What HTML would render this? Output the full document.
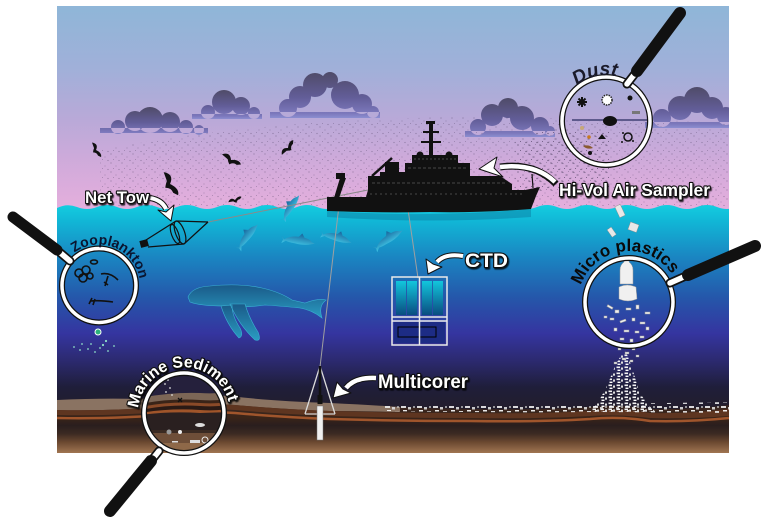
<!DOCTYPE html>
<html><head><meta charset="utf-8">
<style>
html,body{margin:0;padding:0;background:#fff;width:765px;height:520px;overflow:hidden}
svg{display:block}
.lbl{font-family:"Liberation Sans",Arial,sans-serif;font-weight:bold;fill:#fff;stroke:#111;stroke-width:2.2;paint-order:stroke;stroke-linejoin:round}
.arc{font-family:"Liberation Sans",Arial,sans-serif;font-weight:bold}
</style></head><body>
<svg width="765" height="520" viewBox="0 0 765 520" xmlns="http://www.w3.org/2000/svg" xmlns:xlink="http://www.w3.org/1999/xlink">
<defs>
 <clipPath id="pc"><rect x="57" y="6" width="672" height="447"/></clipPath>
 <clipPath id="sedc"><circle cx="184" cy="413" r="40"/></clipPath>
 <linearGradient id="sky" x1="0" y1="6" x2="0" y2="212" gradientUnits="userSpaceOnUse">
  <stop offset="0" stop-color="#8fb6d8"/>
  <stop offset="0.3" stop-color="#a0b0d9"/>
  <stop offset="0.55" stop-color="#b9a9d8"/>
  <stop offset="0.8" stop-color="#d4abdb"/>
  <stop offset="1" stop-color="#e6afdd"/>
 </linearGradient>
 <linearGradient id="sea" x1="0" y1="205" x2="0" y2="412" gradientUnits="userSpaceOnUse">
  <stop offset="0" stop-color="#14cde0"/>
  <stop offset="0.08" stop-color="#11b6d6"/>
  <stop offset="0.25" stop-color="#1a86c2"/>
  <stop offset="0.45" stop-color="#2556aa"/>
  <stop offset="0.62" stop-color="#3535a0"/>
  <stop offset="0.75" stop-color="#2c2a70"/>
  <stop offset="0.88" stop-color="#1f1e3a"/>
  <stop offset="1" stop-color="#231d2a"/>
 </linearGradient>
 <linearGradient id="mud" x1="0" y1="398" x2="0" y2="453" gradientUnits="userSpaceOnUse">
  <stop offset="0" stop-color="#3a2a2a"/>
  <stop offset="0.35" stop-color="#3a2418"/>
  <stop offset="0.5" stop-color="#2a1e1e"/>
  <stop offset="0.65" stop-color="#3c2a22"/>
  <stop offset="0.8" stop-color="#6a4830"/>
  <stop offset="1" stop-color="#a07552"/>
 </linearGradient>
 <linearGradient id="cloud" x1="0" y1="0" x2="0" y2="1">
  <stop offset="0" stop-color="#4f4b68"/>
  <stop offset="0.55" stop-color="#625d98"/>
  <stop offset="0.9" stop-color="#7c78bc"/>
  <stop offset="1" stop-color="#8c8ed0"/>
 </linearGradient>
 <linearGradient id="dolg" x1="0" y1="0" x2="0" y2="1">
  <stop offset="0" stop-color="#17639a"/>
  <stop offset="1" stop-color="#40c6e6"/>
 </linearGradient>
 <linearGradient id="whg" x1="0" y1="0" x2="0" y2="1">
  <stop offset="0" stop-color="#1a5a88"/>
  <stop offset="1" stop-color="#2a9cc2"/>
 </linearGradient>
 <linearGradient id="btl" x1="0" y1="0" x2="0" y2="1">
  <stop offset="0" stop-color="#12c6dc"/>
  <stop offset="1" stop-color="#0a4c80"/>
 </linearGradient>
 <pattern id="dots" width="11" height="9" patternUnits="userSpaceOnUse">
  <circle cx="1" cy="1" r=".6" fill="#4a3d5e"/>
  <circle cx="6" cy="4" r=".5" fill="#4a3d5e"/>
  <circle cx="9" cy="7.5" r=".6" fill="#4a3d5e"/>
  <circle cx="3.5" cy="6.5" r=".45" fill="#4a3d5e"/>
 </pattern>
 <pattern id="deb" width="16" height="9" patternUnits="userSpaceOnUse">
  <rect x="1" y="1" width="5" height="2" fill="#eee"/>
  <rect x="8" y="2" width="3" height="2.5" fill="#ddd"/>
  <rect x="3" y="5" width="4" height="1.5" fill="#fff"/>
  <rect x="11" y="6" width="4" height="2" fill="#e8e8e8"/>
  <circle cx="14" cy="2" r="1" fill="#ccc"/>
 </pattern>
 <pattern id="deb2" width="8" height="6" patternUnits="userSpaceOnUse">
  <rect x="0.5" y="0.5" width="3.5" height="1.6" fill="#f2f2f2"/>
  <rect x="5" y="1.5" width="2" height="2.2" fill="#ddd"/>
  <rect x="1.5" y="3.6" width="3" height="1.4" fill="#fff"/>
 </pattern>
 <filter id="sh" x="-10%" y="-20%" width="130%" height="160%">
  <feDropShadow dx="1" dy="1.5" stdDeviation="0.6" flood-color="#000" flood-opacity=".8"/>
 </filter>
 <g id="dol">
  <path fill="url(#dolg)" d="M-15,1 Q-8,-5 4,-4 Q10,-4 13,-1 L16,0 L13,1 Q6,4 -4,3 Q-10,3 -13,2 L-17,5 L-16,1 L-18,-2 Z M-1,-4 L2,-8 L5,-4 Z"/>
 </g>
 <g id="bird">
  <path fill="#111" d="M-7,1 Q-4,-4 0,0 Q4,-4 7,-2 L5,0 Q2,0 1,3 Q-1,2 -2,1 Q-4,1 -7,1 Z"/>
 </g>
 <path id="pz" d="M64.2,263.8 A41,41 0 0 1 139.1,294.0"/>
 <path id="pm" d="M578.1,299.3 A51,51 0 0 1 677.8,287.1"/>
 <path id="pd" d="M560.1,123.4 A46,46 0 0 1 648.3,103.0"/>
 <path id="ps" d="M138.3,408.2 A46,46 0 0 1 228.6,401.9"/>
</defs>

<g clip-path="url(#pc)">
 <rect x="57" y="6" width="672" height="447" fill="url(#sky)"/>
 <path d="M100,150 Q300,112 550,118 L729,122 L729,206 L100,206 Z" fill="url(#dots)" opacity=".45"/>
 <rect x="515" y="128" width="95" height="62" fill="url(#dots)" opacity=".7"/>
 <rect x="520" y="133" width="85" height="55" fill="url(#dots)" opacity=".5" transform="translate(4,3)"/>
 <!-- clouds -->
 <path fill="url(#cloud)" d="M100,128h108v5h-108z M111,127a7,7 0 1,0 14,0a7,7 0 1,0 -14,0 M125,121a10,10 0 1,0 20,0a10,10 0 1,0 -20,0 M137,120a13,13 0 1,0 26,0a13,13 0 1,0 -26,0 M160,122a10,10 0 1,0 20,0a10,10 0 1,0 -20,0 M179,127a7,7 0 1,0 14,0a7,7 0 1,0 -14,0 M194,130a5,5 0 1,0 10,0a5,5 0 1,0 -10,0"/>
 <path fill="url(#cloud)" d="M192,114h70v5h-70z M201,112a7,7 0 1,0 14,0a7,7 0 1,0 -14,0 M212,102a12,12 0 1,0 24,0a12,12 0 1,0 -24,0 M232,106a9,9 0 1,0 18,0a9,9 0 1,0 -18,0 M248,113a6,6 0 1,0 12,0a6,6 0 1,0 -12,0"/>
 <path fill="url(#cloud)" d="M270,112h110v6h-110z M279,108a9,9 0 1,0 18,0a9,9 0 1,0 -18,0 M289,97a11,11 0 1,0 22,0a11,11 0 1,0 -22,0 M303,85a12,12 0 1,0 24,0a12,12 0 1,0 -24,0 M322,80a8,8 0 1,0 16,0a8,8 0 1,0 -16,0 M331,95a14,14 0 1,0 28,0a14,14 0 1,0 -28,0 M352,104a10,10 0 1,0 20,0a10,10 0 1,0 -20,0 M367,112a6,6 0 1,0 12,0a6,6 0 1,0 -12,0"/>
 <path fill="url(#cloud)" d="M465,131h90v6h-90z M470,127a8,8 0 1,0 16,0a8,8 0 1,0 -16,0 M481,115a11,11 0 1,0 22,0a11,11 0 1,0 -22,0 M498,108a10,10 0 1,0 20,0a10,10 0 1,0 -20,0 M510,118a12,12 0 1,0 24,0a12,12 0 1,0 -24,0 M531,126a9,9 0 1,0 18,0a9,9 0 1,0 -18,0 M545,131a5,5 0 1,0 10,0a5,5 0 1,0 -10,0"/>
 <path fill="url(#cloud)" d="M645,122h84v6h-84z M653,118a9,9 0 1,0 18,0a9,9 0 1,0 -18,0 M668,108a12,12 0 1,0 24,0a12,12 0 1,0 -24,0 M684,100a13,13 0 1,0 26,0a13,13 0 1,0 -26,0 M701,108a11,11 0 1,0 22,0a11,11 0 1,0 -22,0 M717,116a9,9 0 1,0 18,0a9,9 0 1,0 -18,0"/>
 <rect x="572" y="119" width="80" height="2" fill="#5e5a8c"/>
 <!-- birds -->
 <use xlink:href="#bird" transform="translate(96,150) rotate(70) scale(1.2)"/>
 <use xlink:href="#bird" transform="translate(170,184) rotate(70) scale(1.9)"/>
 <use xlink:href="#bird" transform="translate(231,160) rotate(40) scale(1.5)"/>
 <use xlink:href="#bird" transform="translate(288,148) rotate(-40) scale(1.3)"/>
 <use xlink:href="#bird" transform="translate(235,200) rotate(-10) scale(1)"/>

 <!-- sea -->
 <path fill="url(#sea)" d="M57,208 Q67,203 77,207 T97,207 T117,207 T137,207 T157,207 T177,207 T197,207 T217,207 T237,207 T257,207 T277,207 T297,207 T317,207 T337,207 T357,207 T377,207 T397,207 T417,207 T437,207 T457,207 T477,207 T497,207 T517,207 T537,207 T557,207 T577,207 T597,207 T617,207 T637,207 T657,207 T677,207 T697,207 T717,207 T737,207 L737,453 L57,453 Z"/>
 <path d="M327,211 Q430,218 531,209 L531,217 Q430,224 327,217 Z" fill="#0b7ea3" opacity=".5"/>

 <!-- seabed -->
 <path fill="url(#mud)" d="M57,401 Q100,399 140,400 Q180,394 230,397 Q270,402 330,404 Q400,408 470,409 Q540,410 590,407 Q620,404 650,409 Q690,410 729,405 L729,453 L57,453 Z"/>
 <path fill="#8a7362" d="M57,400 Q100,398 140,399 Q180,393 230,396 Q270,401 330,403 Q370,405 400,407 L400,412 Q360,411 330,411 Q280,409 235,405 Q190,402 150,408 Q100,411 57,410 Z"/>
 <path fill="#5e3520" d="M57,410 Q100,411 150,408 Q190,402 235,405 Q280,409 330,411 Q400,413 470,413 Q540,414 590,411 Q620,408 650,413 Q690,414 729,409 L729,416 Q690,419 650,418 Q620,414 590,416 Q540,419 470,418 Q400,418 330,416 Q280,414 235,410 Q190,407 150,413 Q100,416 57,415 Z"/>
 <path fill="none" stroke="#a0552c" stroke-width="2.5" d="M57,418 Q100,419 150,416 Q190,410 235,413 Q280,417 330,419 Q400,421 470,421 Q540,422 590,419 Q620,416 650,421 Q690,422 729,418"/>
 <path d="M385,404 Q450,405 560,406 L600,404 L729,402 L729,413 L600,412 Q500,413 385,411 Z" fill="url(#deb)" opacity=".9"/>
 <path d="M590,412 Q604,396 611,376 Q617,360 625,350 Q632,365 637,385 Q643,402 656,412 Z" fill="url(#deb2)"/>

 <!-- whale -->
 <path fill="url(#whg)" stroke="#3ab0d4" stroke-width=".6" d="M188,297 Q192,287 210,286 Q240,283 262,288 Q280,292 292,300 L305,303 Q318,298 326,300 Q318,306 322,318 Q312,310 300,308 Q280,306 265,305 Q245,308 225,306 Q200,306 190,302 Z"/>
 <path fill="url(#whg)" stroke="#3ab0d4" stroke-width=".6" d="M230,304 Q239,325 255,340 Q262,342 258,332 Q249,318 245,304 Z M221,306 Q227,325 239,338 Q244,336 240,328 Q232,316 232,305 Z"/>
 <!-- dolphins -->
 <use xlink:href="#dol" transform="translate(291,207) rotate(-55) scale(.9)"/>
 <use xlink:href="#dol" transform="translate(248,236) rotate(-50) scale(.95)"/>
 <use xlink:href="#dol" transform="translate(299,241) rotate(10) scale(1)"/>
 <use xlink:href="#dol" transform="translate(337,238) rotate(18) scale(.95)"/>
 <use xlink:href="#dol" transform="translate(389,239) rotate(-32) scale(1)"/>

 <!-- lines -->
 <line x1="208" y1="222" x2="368" y2="190" stroke="#8a8a8a" stroke-width="1"/>
 <line x1="342" y1="180" x2="320" y2="367" stroke="#a0a0a0" stroke-width="1"/>
 <line x1="404" y1="182" x2="418" y2="278" stroke="#a0a0a0" stroke-width="1"/>

 <!-- net -->
 <g stroke="#111" stroke-width="1.2" fill="none">
  <line x1="176" y1="221" x2="146" y2="240"/>
  <line x1="184" y1="244" x2="148" y2="247"/>
  <line x1="176" y1="221" x2="208" y2="222"/>
  <line x1="184" y1="244" x2="208" y2="222"/>
  <ellipse cx="180" cy="232.5" rx="4.5" ry="12" transform="rotate(-20 180 232.5)"/>
  <ellipse cx="175" cy="234" rx="3.5" ry="10" transform="rotate(-20 175 234)"/>
 </g>
 <rect x="140" y="240" width="8" height="7" fill="#111" transform="rotate(-15 144 243)"/>

 <!-- ship -->
 <g fill="#111">
  <path d="M327,211 L327,197 L366,197 L368,190 L525,190 L540,187 L536,196 L531,209 Q480,213 430,212 Q380,213 327,211 Z"/>
  <path d="M368,190 L368,176 L380,176 L380,172 L405,172 L405,163 L412,163 L412,155 L458,155 L458,163 L470,163 L470,176 L500,176 L512,184 L512,190 Z"/>
  <rect x="429" y="122" width="4" height="34"/>
  <rect x="423" y="131" width="16" height="2"/>
  <rect x="421" y="141" width="20" height="2"/>
  <rect x="426" y="121" width="9" height="3"/>
  <circle cx="420" cy="155" r="3.5"/>
  <circle cx="449" cy="155" r="3.5"/>
  <path d="M334,198 L340,178 L346,178 L339,198 Z"/>
  <rect x="336" y="173" width="9" height="6"/>
  <rect x="385" y="162" width="14" height="11"/>
 </g>
 <g stroke="#111" fill="none">
  <line x1="372" y1="176" x2="392" y2="158" stroke-width="2.5"/>
  <line x1="533" y1="188" x2="532" y2="174" stroke-width="1.2"/>
  <line x1="458" y1="163" x2="470" y2="170" stroke-width="1"/>
 </g>
 <g stroke="#5a5a5a" stroke-width=".8" fill="none">
  <line x1="372" y1="183" x2="505" y2="183" stroke-dasharray="3 2"/>
  <line x1="370" y1="194" x2="522" y2="194" stroke-dasharray="2 3"/>
  <line x1="408" y1="168" x2="466" y2="168" stroke-dasharray="3 2"/>
  <line x1="414" y1="159" x2="456" y2="159" stroke-dasharray="2 2"/>
 </g>

 <!-- CTD -->
 <g>
  <rect x="396" y="281" width="10" height="34" fill="url(#btl)"/>
  <rect x="407" y="281" width="10" height="34" fill="url(#btl)"/>
  <rect x="422" y="281" width="10" height="34" fill="url(#btl)"/>
  <rect x="433" y="281" width="10" height="34" fill="url(#btl)"/>
  <rect x="394" y="322" width="51" height="21" fill="#1d2c85"/>
  <rect x="398" y="327" width="38" height="10" fill="none" stroke="#000" stroke-width="1"/>
  <g stroke="#eaeaea" stroke-width="1.5" fill="none">
   <rect x="392" y="277" width="55" height="68"/>
   <line x1="392" y1="317" x2="447" y2="317"/>
   <line x1="392" y1="321" x2="447" y2="321"/>
   <line x1="419.5" y1="277" x2="419.5" y2="345"/>
  </g>
 </g>

 <!-- multicorer -->
 <g>
  <line x1="320" y1="366" x2="305" y2="414" stroke="#dcdcdc" stroke-width="1.3"/>
  <line x1="320" y1="366" x2="335" y2="414" stroke="#dcdcdc" stroke-width="1.3"/>
  <line x1="320" y1="366" x2="320" y2="404" stroke="#111" stroke-width="2.5"/>
  <rect x="317.5" y="395" width="5" height="9" fill="#111"/>
  <line x1="305" y1="414" x2="335" y2="414" stroke="#cfcfcf" stroke-width="1.2"/>
  <rect x="317" y="406" width="6" height="34" fill="#f0f0f0" stroke="#777" stroke-width=".5"/>
 </g>

 <!-- plastics floating & falling -->
 <g fill="#e8e8e8" stroke="#888" stroke-width=".4">
  <rect x="617" y="205" width="6" height="12" transform="rotate(-25 620 211)"/>
  <rect x="609" y="228" width="5" height="9" transform="rotate(-35 611 232)"/>
  <rect x="629" y="223" width="9" height="8" transform="rotate(20 633 227)"/>
  <rect x="618" y="348" width="3" height="2"/><rect x="625" y="352" width="4" height="2"/>
  <rect x="632" y="347" width="3" height="3"/><rect x="622" y="358" width="4" height="2"/>
  <rect x="630" y="360" width="3" height="2"/><rect x="614" y="362" width="3" height="2"/>
  <rect x="636" y="355" width="3" height="2"/>
 </g>

 <!-- bio dots -->
 <circle cx="98" cy="332" r="3" fill="#2ab27a" stroke="#fff" stroke-width="1"/>
 <g fill="#8fe0c8">
  <circle cx="74" cy="347" r=".9"/><circle cx="80" cy="350" r=".9"/><circle cx="88" cy="349" r=".9"/>
  <circle cx="95" cy="352" r=".9"/><circle cx="103" cy="345" r="1.1"/><circle cx="108" cy="351" r=".9"/>
  <circle cx="114" cy="346" r=".9"/><circle cx="91" cy="344" r=".9"/><circle cx="100" cy="348" r=".9"/>
  <circle cx="82" cy="344" r=".9"/><circle cx="106" cy="341" r="1.1"/>
 </g>
</g>

<!-- sediment lens interior -->
<g clip-path="url(#sedc)">
 <rect x="140" y="370" width="90" height="90" fill="#25203c"/>
 <path d="M140,398 Q170,392 200,393 Q215,394 230,392 L230,460 L140,460 Z" fill="#7c6656"/>
 <path d="M140,404 Q170,398 200,400 Q215,401 230,399 L230,460 L140,460 Z" fill="#3a2418"/>
 <path d="M140,407 Q170,401 200,403 Q215,404 230,402 L230,460 L140,460 Z" fill="#8a4a28"/>
 <path d="M140,410 Q170,404 200,406 Q215,407 230,405 L230,460 L140,460 Z" fill="#2a1a15"/>
 <path d="M140,413 Q170,408 200,410 Q215,411 230,409 L230,460 L140,460 Z" fill="#a0552a"/>
 <path d="M140,415 Q170,411 200,413 L230,412 L230,460 L140,460 Z" fill="#2a2020"/>
 <rect x="140" y="430" width="90" height="3" fill="#3a2a22"/>
 <rect x="140" y="433" width="90" height="30" fill="#6e4e38"/>
 <rect x="140" y="443" width="90" height="20" fill="#8e6848"/>
 <g fill="#ddd">
  <circle cx="165" cy="384" r=".9"/><circle cx="170" cy="388" r=".9"/><circle cx="166" cy="392" r=".9"/>
  <circle cx="172" cy="395" r=".9"/><circle cx="168" cy="380" r=".9"/>
  <ellipse cx="200" cy="425" rx="5" ry="2"/><circle cx="169" cy="432" r="2.5" fill="#999"/>
  <circle cx="180" cy="432" r="2" fill="#eee"/><rect x="190" y="440" width="10" height="3"/>
  <rect x="172" y="441" width="6" height="1.5"/><circle cx="205" cy="440" r="3" fill="none" stroke="#eee"/>
 </g>
 <path d="M178,398 l4,4 m0,-4 l-4,4" stroke="#111" stroke-width="1.3"/>
</g>

<!-- dust contents -->
<g fill="#111">
 <path d="M577,102 h10 M582,97 v10 M578.5,98.5 l7,7 M585.5,98.5 l-7,7" stroke="#111" stroke-width="2"/>
 <circle cx="607" cy="100" r="5" fill="#fff" stroke="#222" stroke-width="1.5" stroke-dasharray="1.5 1"/>
 <circle cx="630" cy="98" r="2.5"/>
 <ellipse cx="610" cy="121" rx="7" ry="5"/>
 <rect x="632" y="111" width="8" height="3" fill="#777"/>
 <circle cx="582" cy="128" r="2" fill="#c8a878"/>
 <circle cx="589" cy="137" r="1.8" fill="#c87a20"/>
 <path d="M598,139 l4,-5 l4,5 z"/>
 <path d="M583,146 q6,-2 10,2 q-6,2 -10,-2z" fill="#8a5a30"/>
 <circle cx="590" cy="153" r="2"/>
 <circle cx="628" cy="137" r="4" fill="none" stroke="#111" stroke-width="1.5"/>
 <circle cx="623" cy="133" r="1"/><circle cx="633" cy="141" r="1"/><circle cx="622" cy="142" r="1"/>
</g>
<!-- zooplankton contents -->
<g fill="none" stroke="#111" stroke-width="1.6">
 <circle cx="79" cy="273" r="4"/><circle cx="86" cy="270" r="4"/><circle cx="83" cy="278" r="4"/>
 <circle cx="90" cy="276" r="3"/>
 <ellipse cx="94" cy="262" rx="3.5" ry="2"/>
 <path d="M101,274 Q110,272 118,280 M108,276 l-3,10 M104,282 l4,3"/>
 <path d="M90,301 Q100,300 113,302 M92,298 l-3,6 M95,299 l-2,6"/>
</g>
<!-- microplastics contents -->
<g fill="#f0f0f0" stroke="#999" stroke-width=".5">
 <path d="M624,258 h5 v4 q4,3 4,8 v14 h-13 v-14 q0,-5 4,-8 z"/>
 <path d="M619,287 q8,-4 17,0 l1,12 q-9,4 -18,0 z"/>
 <rect x="607" y="306" width="6" height="2" transform="rotate(30 610 307)"/>
 <rect x="615" y="310" width="4" height="3"/><rect x="626" y="308" width="5" height="2"/>
 <rect x="636" y="305" width="3" height="4"/><rect x="645" y="312" width="5" height="2"/>
 <rect x="610" y="318" width="4" height="2"/><rect x="620" y="320" width="6" height="2" transform="rotate(-20 623 321)"/>
 <rect x="632" y="318" width="3" height="3"/><rect x="640" y="322" width="5" height="2"/>
 <rect x="614" y="328" width="3" height="3"/><rect x="624" y="330" width="5" height="2"/>
 <rect x="635" y="331" width="4" height="2"/><rect x="646" y="327" width="3" height="3"/>
 <rect x="620" y="338" width="4" height="2"/><rect x="630" y="339" width="3" height="3"/>
 <rect x="640" y="336" width="4" height="2"/><rect x="604" y="316" width="3" height="2"/>
</g>

<!-- lens rings -->
<g fill="none">
 <circle cx="99" cy="285.5" r="37" stroke="#111" stroke-width="6"/>
 <circle cx="99" cy="285.5" r="37" stroke="#fff" stroke-width="3.5"/>
 <circle cx="629" cy="302" r="44" stroke="#111" stroke-width="6"/>
 <circle cx="629" cy="302" r="44" stroke="#fff" stroke-width="3.5"/>
 <circle cx="606" cy="121" r="44" stroke="#111" stroke-width="6"/>
 <circle cx="606" cy="121" r="44" stroke="#fff" stroke-width="3.5"/>
 <circle cx="184" cy="413" r="40" stroke="#111" stroke-width="6"/>
 <circle cx="184" cy="413" r="40" stroke="#fff" stroke-width="3.5"/>
</g>
<!-- handles -->
<g stroke-linecap="round">
 <line x1="57" y1="250" x2="70" y2="261" stroke="#111" stroke-width="9"/>
 <line x1="57" y1="250" x2="70" y2="261" stroke="#fff" stroke-width="5.5"/>
 <line x1="13" y1="217" x2="57" y2="250" stroke="#111" stroke-width="11"/>
 <line x1="670" y1="283" x2="688" y2="275" stroke="#111" stroke-width="9"/>
 <line x1="670" y1="283" x2="688" y2="275" stroke="#fff" stroke-width="5.5"/>
 <line x1="688" y1="275" x2="755" y2="246" stroke="#111" stroke-width="12"/>
 <line x1="627" y1="84" x2="637" y2="71" stroke="#111" stroke-width="9"/>
 <line x1="627" y1="84" x2="637" y2="71" stroke="#fff" stroke-width="5.5"/>
 <line x1="637" y1="71" x2="680" y2="13" stroke="#111" stroke-width="12"/>
 <line x1="159" y1="451" x2="151" y2="461" stroke="#111" stroke-width="9"/>
 <line x1="159" y1="451" x2="151" y2="461" stroke="#fff" stroke-width="5.5"/>
 <line x1="151" y1="461" x2="110" y2="511" stroke="#111" stroke-width="12"/>
</g>

<!-- arrows -->
<g stroke-linejoin="round">
 <path d="M150,198 Q162,200 166,209" fill="none" stroke="#111" stroke-width="6"/>
 <path d="M150,198 Q162,200 166,209" fill="none" stroke="#fff" stroke-width="4"/>
 <polygon points="171,221 158,210 166,212 174,205" fill="#fff" stroke="#111" stroke-width="1"/>
 <path d="M556,184 Q535,162 500,167" fill="none" stroke="#111" stroke-width="7"/>
 <path d="M555,182 Q535,163 500,167" fill="none" stroke="#fff" stroke-width="4.5"/>
 <polygon points="479,169 497,157 494,168 503,177" fill="#fff" stroke="#111" stroke-width="1"/>
 <path d="M463,256 Q445,253 437,262" fill="none" stroke="#111" stroke-width="6"/>
 <path d="M463,256 Q445,253 437,262" fill="none" stroke="#fff" stroke-width="4"/>
 <polygon points="428,274 426,259 433,264 442,267" fill="#fff" stroke="#111" stroke-width="1"/>
 <path d="M376,378 Q355,377 346,388" fill="none" stroke="#111" stroke-width="6.5"/>
 <path d="M376,378 Q355,377 346,388" fill="none" stroke="#fff" stroke-width="4.5"/>
 <polygon points="333,398 337,382 343,389 351,393" fill="#fff" stroke="#111" stroke-width="1"/>
</g>

<!-- labels -->
<g filter="url(#sh)">
 <text class="lbl" x="85" y="203" font-size="17" textLength="64" lengthAdjust="spacingAndGlyphs">Net Tow</text>
 <text class="lbl" x="559" y="196" font-size="17.5" textLength="151" lengthAdjust="spacingAndGlyphs">Hi-Vol Air Sampler</text>
 <text class="lbl" x="465" y="267" font-size="19" textLength="43" lengthAdjust="spacingAndGlyphs">CTD</text>
 <text class="lbl" x="378" y="388" font-size="19" textLength="90" lengthAdjust="spacingAndGlyphs">Multicorer</text>
 <text class="arc lbl" font-size="16"><textPath xlink:href="#ps" startOffset="50%" text-anchor="middle">Marine Sediment</textPath></text>
</g>
<text class="arc" font-size="14" fill="#0a1530"><textPath xlink:href="#pz" startOffset="50%" text-anchor="middle">Zooplankton</textPath></text>
<text class="arc" font-size="17" fill="#0a0a0a"><textPath xlink:href="#pm" startOffset="50%" text-anchor="middle">Micro plastics</textPath></text>
<text class="arc" font-size="19" font-style="italic" fill="#1a1a2a"><textPath xlink:href="#pd" startOffset="50%" text-anchor="middle">Dust</textPath></text>
</svg>
</body></html>
